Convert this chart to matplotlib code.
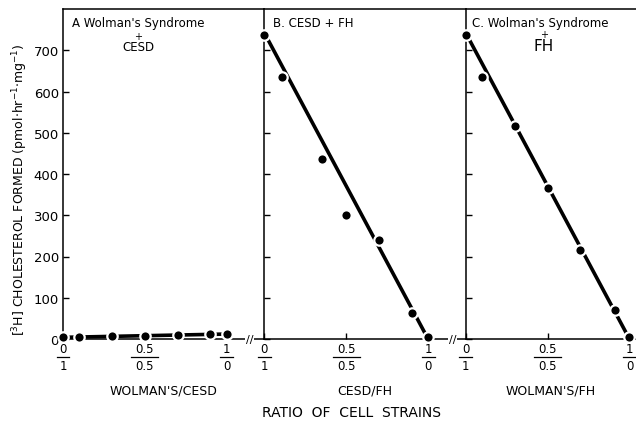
import matplotlib
matplotlib.use("Agg")
import matplotlib.pyplot as plt
import matplotlib.transforms as mtransforms

# values
ratio_a = [0, 0.1, 0.3, 0.5, 0.7, 0.9, 1.0]
chol_a = [4, 6, 7, 8, 9, 11, 12]
ratio_b = [0, 0.11, 0.35, 0.5, 0.7, 0.9, 1.0]
chol_b = [738, 636, 436, 300, 240, 62, 4]
ratio_c = [0, 0.1, 0.3, 0.5, 0.7, 0.91, 1.0]
chol_c = [738, 634, 517, 366, 216, 71, 4]

# hand drawn fit lines (end points)
fit_x = [0, 1.0]
fit_a = [4, 12]
fit_b = [742, 0]
fit_c = [742, 0]

y_ticks = [0, 100, 200, 300, 400, 500, 600, 700]
x_ticks = [0, 0.5, 1.0]
tick_num = ["0", "0.5", "1"]
tick_den = ["1", "0.5", "0"]

xlabels = ["WOLMAN'S/CESD", "CESD/FH", "WOLMAN'S/FH"]
xlims = [1.23, 1.23, 1.04]
breaks = [1.14, 1.15, None]

fig = plt.figure(figsize=(6.36, 4.27), dpi=100)
gs = fig.add_gridspec(1, 3, width_ratios=xlims, left=63 / 636, right=1.0,
                      bottom=1 - 340 / 427, top=1 - 10 / 427, wspace=0)
axes = [fig.add_subplot(gs[0, i]) for i in range(3)]

data = [(ratio_a, chol_a, fit_a), (ratio_b, chol_b, fit_b), (ratio_c, chol_c, fit_c)]

for i, ax in enumerate(axes):
    xs, ys, fit = data[i]
    ax.set_xlim(0, xlims[i])
    ax.set_ylim(0, 800)
    ax.spines["right"].set_visible(False)
    for s in ["left", "top", "bottom"]:
        ax.spines[s].set_linewidth(1.1)
    ax.plot(fit_x, fit, color="black", lw=2.6, solid_capstyle="butt", zorder=2)
    ax.plot(xs, ys, "o", color="black", ms=7.5, mec="white", mew=1.6,
            clip_on=False, zorder=3)
    ax.set_yticks(y_ticks)
    ax.set_xticks(x_ticks)
    ax.set_xticklabels([])
    ax.tick_params(direction="in", length=4, width=1)
    if i == 0:
        ax.tick_params(axis="y", labelsize=9.5, pad=3)
    else:
        ax.tick_params(axis="y", labelleft=False)

    # fraction style tick labels
    trans = mtransforms.blended_transform_factory(ax.transData, ax.transAxes)
    for x, num, den in zip(x_ticks, tick_num, tick_den):
        ax.annotate(num, xy=(x, 0), xycoords=trans, xytext=(0, -10),
                    textcoords="offset pixels", ha="center", va="center", fontsize=8.5)
        ax.annotate(den, xy=(x, 0), xycoords=trans, xytext=(0, -27),
                    textcoords="offset pixels", ha="center", va="center", fontsize=8.5)
        hw = (3 + 3.5 * len(num)) / 164
        off = mtransforms.ScaledTranslation(0, -18 / 100, fig.dpi_scale_trans)
        ax.plot([x - hw, x + hw], [0, 0], color="black", lw=0.9,
                transform=trans + off, clip_on=False)

    if breaks[i] is not None:
        ax.text(breaks[i], 0, "//", transform=trans, ha="center", va="center",
                fontsize=8, bbox=dict(fc="white", ec="none", pad=0.5), zorder=4)

    ax.text(0.5, -51 / 330, xlabels[i], transform=ax.transAxes,
            ha="center", va="center", fontsize=9)

# panel titles
axes[0].text(0.045, 0.96, "A Wolman's Syndrome", transform=axes[0].transAxes,
             ha="left", va="center", fontsize=8.5)
axes[0].text(0.373, 0.918, "+", transform=axes[0].transAxes,
             ha="center", va="center", fontsize=7)
axes[0].text(0.373, 0.885, "CESD", transform=axes[0].transAxes,
             ha="center", va="center", fontsize=8.5)
axes[1].text(0.045, 0.96, "B. CESD + FH", transform=axes[1].transAxes,
             ha="left", va="center", fontsize=8.5)
axes[2].text(0.035, 0.96, "C. Wolman's Syndrome", transform=axes[2].transAxes,
             ha="left", va="center", fontsize=8.5)
axes[2].text(0.46, 0.924, "+", transform=axes[2].transAxes,
             ha="center", va="center", fontsize=7)
axes[2].text(0.455, 0.888, "FH", transform=axes[2].transAxes,
             ha="center", va="center", fontsize=11)

fig.text(20 / 636, 1 - 190 / 427,
         r"[$^3$H] CHOLESTEROL FORMED (pmol$\cdot$hr$^{-1}$$\cdot$mg$^{-1}$)",
         rotation=90, ha="center", va="center", fontsize=9)
fig.text(352 / 636, 1 - 413 / 427, "RATIO  OF  CELL  STRAINS",
         ha="center", va="center", fontsize=10)

fig.savefig("out.png", dpi=100)
